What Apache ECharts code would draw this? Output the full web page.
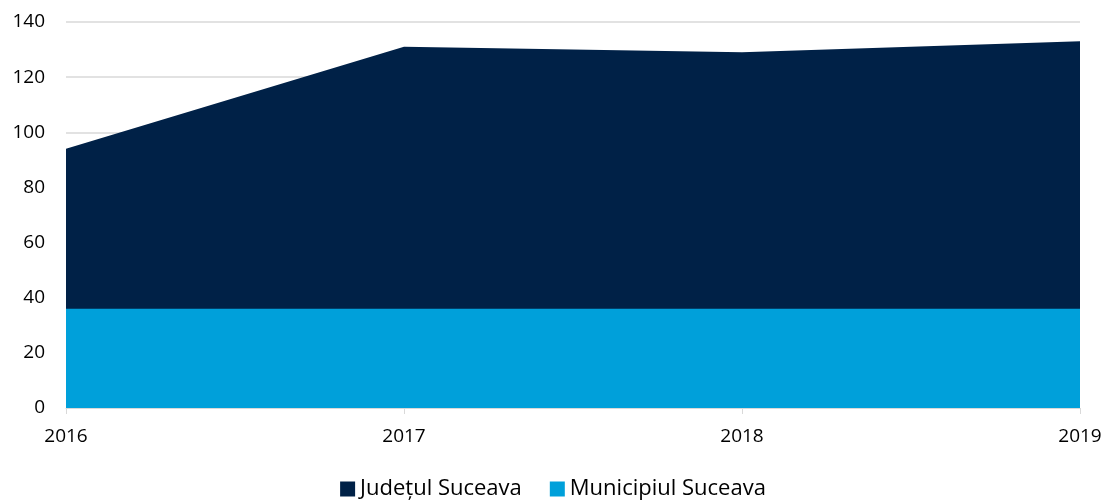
<!DOCTYPE html>
<html>
<head>
<meta charset="utf-8">
<script src="https://cdn.jsdelivr.net/npm/echarts@6/dist/echarts.min.js"></script>
<style>
  html, body { margin: 0; padding: 0; background: #fff; }
  #Ebox { width: 1106px; height: 500px; }
</style>
</head>
<body>
<div id="Ebox"></div>
<script>
// date
var years = ["2016", "2017", "2018", "2019"];
var judetData = [94, 131, 129, 133];
var municipiuData = [36, 36, 36, 36];
var yTicks = [0, 20, 40, 60, 80, 100, 120, 140];

var font = "Open Sans";
var myChart = echarts.init(document.getElementById("Ebox"));
var option = {
  animation: false,
  textStyle: { fontFamily: font },
  legend: {
    top: 473,
    left: "center",
    itemWidth: 15,
    itemHeight: 15,
    itemGap: 28,
    icon: "rect",
    textStyle: { fontSize: 22, color: "#000", fontFamily: font },
    data: ["Județul Suceava", "Municipiul Suceava"]
  },
  grid: { left: 66, right: 26, top: 22, bottom: 92 },
  xAxis: {
    type: "category",
    boundaryGap: false,
    data: years,
    axisLine: { lineStyle: { color: "#d9d9d9", width: 1 } },
    axisTick: { show: true, length: 6, lineStyle: { color: "#d9d9d9" } },
    axisLabel: { fontSize: 19, color: "#000", margin: 19, fontFamily: font },
    splitLine: { show: false }
  },
  yAxis: {
    type: "value",
    min: yTicks[0],
    max: yTicks[yTicks.length - 1],
    interval: 20,
    axisLine: { show: false },
    axisTick: { show: false },
    axisLabel: { fontSize: 19, color: "#000", margin: 21, fontFamily: font },
    splitLine: { lineStyle: { color: "#d9d9d9", width: 1.5 } }
  },
  series: [
    {
      name: "Județul Suceava",
      type: "line",
      data: judetData,
      symbol: "none",
      lineStyle: { width: 0 },
      itemStyle: { color: "#002147" },
      areaStyle: { color: "#002147", opacity: 1 },
      z: 2
    },
    {
      name: "Municipiul Suceava",
      type: "line",
      data: municipiuData,
      symbol: "none",
      lineStyle: { width: 0 },
      itemStyle: { color: "#00a0da" },
      areaStyle: { color: "#00a0da", opacity: 1 },
      z: 3
    }
  ]
};
myChart.setOption(option);
</script>
</body>
</html>
